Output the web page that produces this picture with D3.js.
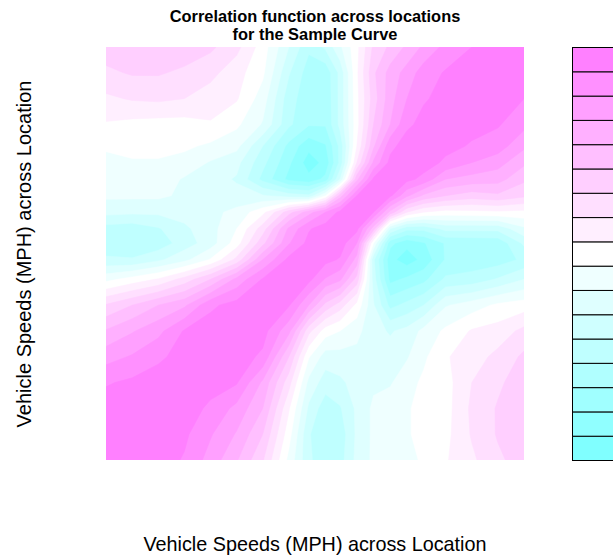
<!DOCTYPE html>
<html>
<head>
<meta charset="utf-8">
<script src="https://cdn.jsdelivr.net/npm/d3@7"></script>
<style>
  html, body { margin: 0; padding: 0; background: #fff; overflow: hidden; }
  text { font-family: "Liberation Sans", Arial, sans-serif; fill: #000; }
</style>
</head>
<body>
<script>
var titleLines = ['Correlation function across locations', 'for the Sample Curve'];
var xLabel = 'Vehicle Speeds (MPH) across Location';
var yLabel = 'Vehicle Speeds (MPH) across Location';

// band edges, one more than there are colours
var levels = [-0.7,-0.6,-0.5,-0.4,-0.3,-0.2,-0.1,0,0.1,0.2,0.3,0.4,0.5,0.6,0.7,0.8,0.9,1.0];
var bandColors = ['#80FFFF','#90FFFF','#A0FFFF','#B0FFFF','#BFFFFF','#CFFFFF','#DFFFFF','#EFFFFF','#FFFFFF',
                  '#FFEFFF','#FFDFFF','#FFCFFF','#FFBFFF','#FFB0FF','#FFA0FF','#FF90FF','#FF80FF'];

// where along the axis (0 to 1) the readings were taken, closer together around the pinch
var locations = [0,.0625,.125,.1875,.25,.3125,.375,.4375,.485,.525,.56,.6,.64,.68,.72,.76,.8125,.875,.9375,1];

// correlation, top row first, left edge up to the diagonal.
// the surface is symmetric so the other half is mirrored below
var corrRows = [
  [.45,.46,.47,.46,.42,.33,.15,-.10,-.28,-.18,-.02,.17,.42,.52,.62,.72,.83,.90,.93,.97],
  [.38,.41,.41,.38,.33,.24,.12,-.19,-.35,-.37,-.17,.18,.48,.64,.74,.85,.91,.94,.97],
  [.28,.31,.32,.30,.25,.21,.05,-.26,-.36,-.38,-.17,.17,.45,.66,.80,.89,.93,.97],
  [.19,.17,.16,.16,.19,.12,-.01,-.28,-.39,-.39,-.17,.16,.50,.70,.88,.93,.97],
  [.11,.13,.13,.12,.08,.03,-.20,-.43,-.57,-.51,-.27,.20,.58,.87,.95,.97],
  [.08,.09,.09,.06,-.01,-.07,-.27,-.48,-.65,-.57,-.27,.30,.72,.93,.97],
  [.05,.06,.05,-.01,-.06,-.11,-.33,-.53,-.57,-.47,-.10,.57,.92,.97],
  [.02,.02,.02,-.02,-.05,-.07,-.09,-.15,-.18,.10,.55,.90,.97],
  [-.07,-.08,-.08,-.06,-.03,.03,.17,.46,.66,.80,.93,.97],
  [-.24,-.26,-.21,-.12,-.04,.10,.35,.72,.89,.95,.97],
  [-.27,-.28,-.26,-.15,-.05,.15,.47,.79,.93,.97],
  [-.18,-.19,-.12,-.03,.11,.33,.70,.93,.97],
  [.07,.14,.21,.34,.50,.73,.91,.97],
  [.41,.50,.60,.68,.88,.94,.97],
  [.61,.69,.77,.91,.95,.97],
  [.76,.81,.88,.94,.97],
  [.89,.92,.95,.97],
  [.95,.96,.97],
  [.97,.97],
  [.98]
];

var width = 613, height = 558;
var plot = {left: 106, right: 524, top: 47, bottom: 460};
var n = corrRows.length;

var svg = d3.select('body').append('svg').attr('width',width).attr('height',height).style('display','block');

svg.append('clipPath').attr('id','plotClip').append('rect')
  .attr('x',plot.left).attr('y',plot.top)
  .attr('width',plot.right-plot.left).attr('height',plot.bottom-plot.top);

// flatten to a full grid, row 0 at the top
var grid = [];
for (var r=0;r<n;r++){
  for (var c=0;c<n;c++){
    var k = n-1-r;
    grid.push(c<=k ? corrRows[r][c] : corrRows[n-1-c][k]);
  }
}

var x = d3.scaleLinear().domain([0,1]).range([plot.left,plot.right]);
var y = d3.scaleLinear().domain([0,1]).range([plot.bottom,plot.top]);
var colIndex = d3.scaleLinear().domain(d3.range(n)).range(locations);
var rowIndex = d3.scaleLinear().domain(d3.range(n)).range(locations.slice().reverse());
var color = d3.scaleOrdinal().domain(levels.slice(0,-1)).range(bandColors);

var contours = d3.contours().size([n,n]).thresholds(levels.slice(0,-1));
// contour coordinates sit half a cell off the grid points
var path = d3.geoPath(d3.geoTransform({
  point: function(px,py){ this.stream.point(x(colIndex(px-0.5)), y(rowIndex(py-0.5))); }
}));

svg.append('g').attr('clip-path','url(#plotClip)')
  .selectAll('path').data(contours(grid)).enter().append('path')
  .attr('d',path)
  .style('fill',function(d){ return color(d.value); })
  .style('stroke',function(d){ return color(d.value); })
  .style('stroke-width',0.5);

// key on the right, runs off the page like the original
var legendY = d3.scaleLinear().domain([levels[0],levels[levels.length-1]]).range([460.5,47.5]);
svg.append('g').selectAll('rect').data(bandColors).enter().append('rect')
  .attr('x',572.5)
  .attr('y',function(d,i){ return legendY(levels[i+1]); })
  .attr('width',80)
  .attr('height',function(d,i){ return legendY(levels[i])-legendY(levels[i+1]); })
  .style('fill',function(d){ return d; })
  .style('stroke','#000')
  .style('stroke-width',1);

svg.append('g').selectAll('text').data(titleLines).enter().append('text')
  .attr('x',315).attr('y',function(d,i){ return 22+i*18; })
  .attr('text-anchor','middle')
  .style('font-size','16.4px').style('font-weight','bold')
  .text(function(d){ return d; });

svg.append('text').attr('x',315).attr('y',551)
  .attr('text-anchor','middle').style('font-size','19.8px')
  .text(xLabel);

svg.append('text').attr('transform','translate(31,254) rotate(-90)')
  .attr('text-anchor','middle').style('font-size','20px')
  .text(yLabel);
</script>
</body>
</html>
